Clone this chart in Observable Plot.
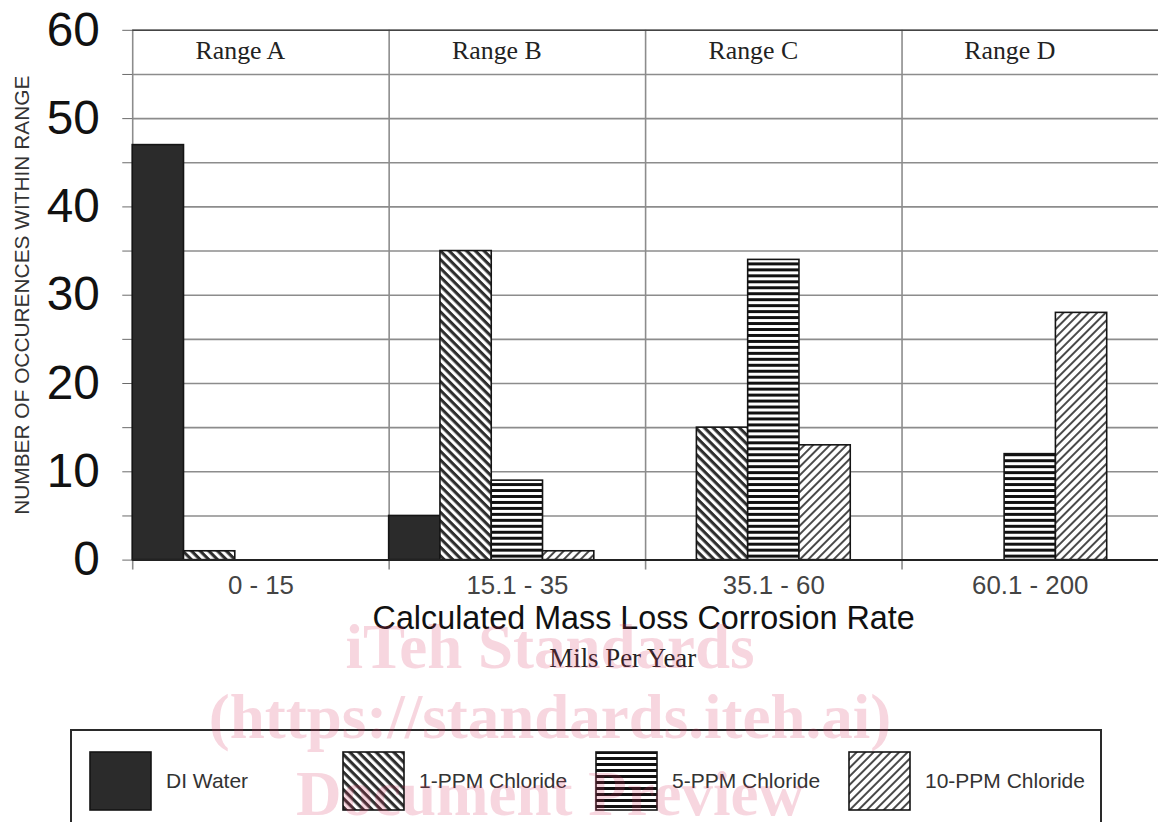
<!DOCTYPE html>
<html>
<head>
<meta charset="utf-8">
<script src="https://cdn.jsdelivr.net/npm/d3@7"></script>
<script src="https://cdn.jsdelivr.net/npm/@observablehq/plot@0.6"></script>
<style>
  html, body { margin: 0; padding: 0; background: #fff; overflow: hidden; width: 1158px; height: 822px; }
  #root { position: relative; width: 1158px; height: 822px; overflow: hidden; }
  #chart { position: absolute; left: 0; top: 0; }
  #legend { position: absolute; left: 70px; top: 729px; width: 1032px; height: 120px;
            border: 2px solid #2a2a2a; border-bottom: none; box-sizing: border-box; }
  #legend .item { position: absolute; top: 20px; height: 60px; display: flex; align-items: center; }
  #legend .label { font-family: "Liberation Sans", Arial, sans-serif; font-size: 21px; color: #333; margin-left: 14px; }
  #watermark { position: absolute; left: 0; top: 0; pointer-events: none; }
  #defs { position: absolute; width: 0; height: 0; }
</style>
</head>
<body>
<div id="root">
  <svg id="defs" width="0" height="0">
    <defs>
      <pattern id="pat1" patternUnits="userSpaceOnUse" width="6.2" height="6.2" patternTransform="rotate(45)">
        <rect width="6.2" height="6.2" fill="#ffffff"/>
        <rect width="6.2" height="3.1" fill="#2e2e2e"/>
      </pattern>
      <pattern id="pat5" patternUnits="userSpaceOnUse" width="6" height="6">
        <rect width="6" height="6" fill="#ffffff"/>
        <rect width="6" height="3" fill="#111111"/>
      </pattern>
      <pattern id="pat10" patternUnits="userSpaceOnUse" width="6" height="6" patternTransform="rotate(-45)">
        <rect width="6" height="6" fill="#ffffff"/>
        <rect width="6" height="2" fill="#4a4a4a"/>
      </pattern>
    </defs>
  </svg>
  <div id="chart"></div>
  <div id="legend"></div>
  <svg id="watermark" width="1158" height="822"></svg>
</div>
<script>
// ---- data ----
const ranges = ["0 - 15", "15.1 - 35", "35.1 - 60", "60.1 - 200"];
const rangeNames = ["Range A", "Range B", "Range C", "Range D"];
const series = ["DI Water", "1-PPM Chloride", "5-PPM Chloride", "10-PPM Chloride"];
const diWater = [47, 5, 0, 0];
const ppm1 = [1, 35, 15, 0];
const ppm5 = [0, 9, 34, 12];
const ppm10 = [0, 1, 13, 28];
const yTicks = [0, 5, 10, 15, 20, 25, 30, 35, 40, 45, 50, 55, 60];
const yTitle = "NUMBER OF OCCURENCES WITHIN RANGE";
const xTitle = "Calculated Mass Loss Corrosion Rate";
const xSubtitle = "Mils Per Year";
const watermarkLines = ["iTeh Standards", "(https://standards.iteh.ai)", "Document Preview"];

// ---- styling ----
const fills = ["#2b2b2b", "url(#pat1)", "url(#pat5)", "url(#pat10)"];
const seriesValues = [diWater, ppm1, ppm5, ppm10];
const slots = series.length + 1; // 4 bars + 1 gap per range

const rows = ranges.flatMap((r, i) =>
  seriesValues.map((vals, j) => ({range: r, group: i, slot: j, series: series[j], value: vals[i]}))
);
const groupStarts = ranges.map((_, i) => i * slots);

const sans = "'Liberation Sans', Arial, sans-serif";
const serif = "'Liberation Serif', 'Times New Roman', serif";

const barMarks = series.map((s, j) =>
  Plot.rectY(rows.filter(d => d.slot === j && d.value > 0), {
    x1: d => d.group * slots + d.slot,
    x2: d => d.group * slots + d.slot + 1,
    y1: 0,
    y2: "value",
    fill: fills[j],
    stroke: "#151515",
    strokeWidth: 1.6
  })
);

const chart = Plot.plot({
  width: 1165,
  height: 700,
  marginLeft: 133,
  marginRight: 0,
  marginTop: 30,
  marginBottom: 137,
  style: {fontFamily: sans, background: "transparent", overflow: "visible"},
  x: {domain: [0, ranges.length * slots]},
  y: {domain: [0, 60]},
  marks: [
    Plot.ruleY(yTicks, {stroke: "#8c8c8c", strokeWidth: 1.6}),
    Plot.ruleX(groupStarts, {y1: 0, y2: 60, stroke: "#8c8c8c", strokeWidth: 1.6}),
    Plot.axisX(groupStarts, {tickSize: 10, tickFormat: () => "", stroke: "#8c8c8c", strokeWidth: 1.6, label: null}),
    Plot.axisY(yTicks, {
      tickSize: 10, tickPadding: 23, fontSize: 48, stroke: "#6a6a6a", fill: "#111",
      tickFormat: d => (d % 10 === 0 ? String(d) : ""), label: null
    }),
    Plot.ruleY([60], {stroke: "#444", strokeWidth: 1.6}),
    ...barMarks,
    Plot.ruleY([0], {stroke: "#222", strokeWidth: 2}),
    Plot.text(rangeNames, {
      x: (d, i) => i * slots + 2.1, y: 57.7,
      fontFamily: serif, fontSize: 26, fill: "#222"
    }),
    Plot.text(ranges, {
      x: (d, i) => i * slots + 2.5, y: 0, dy: 26,
      fontSize: 26, fill: "#444"
    }),
    Plot.text([xTitle], {frameAnchor: "bottom", lineAnchor: "middle", textAnchor: "middle", dy: 59, dx: -2, fontSize: 32.5, fill: "#111"}),
    Plot.text([xSubtitle], {frameAnchor: "bottom", lineAnchor: "middle", textAnchor: "middle", dy: 99, dx: -23, fontFamily: serif, fontSize: 27, fill: "#222"}),
    Plot.text([yTitle], {frameAnchor: "left", textAnchor: "middle", lineAnchor: "middle", rotate: -90, dx: -111, fontSize: 21, fill: "#333"})
  ]
});
document.getElementById("chart").append(chart);

// ---- legend ----
const legend = d3.select("#legend");
const slotW = 253;
series.forEach((s, j) => {
  const item = legend.append("div").attr("class", "item").style("left", (17 + j * slotW) + "px");
  const sw = item.append("svg").attr("width", 63).attr("height", 60);
  sw.append("rect").attr("x", 1).attr("y", 1).attr("width", 61).attr("height", 58)
    .attr("fill", fills[j]).attr("stroke", "#151515").attr("stroke-width", 1.6);
  item.append("span").attr("class", "label").text(s);
});

// ---- watermark ----
const wm = d3.select("#watermark");
const wmY = [668, 738, 815];
watermarkLines.forEach((t, i) => {
  wm.append("text").attr("x", 550).attr("y", wmY[i]).attr("text-anchor", "middle")
    .attr("font-family", serif).attr("font-weight", "bold").attr("font-size", 63)
    .attr("fill", "rgba(215, 50, 95, 0.2)").text(t);
});
</script>
</body>
</html>
